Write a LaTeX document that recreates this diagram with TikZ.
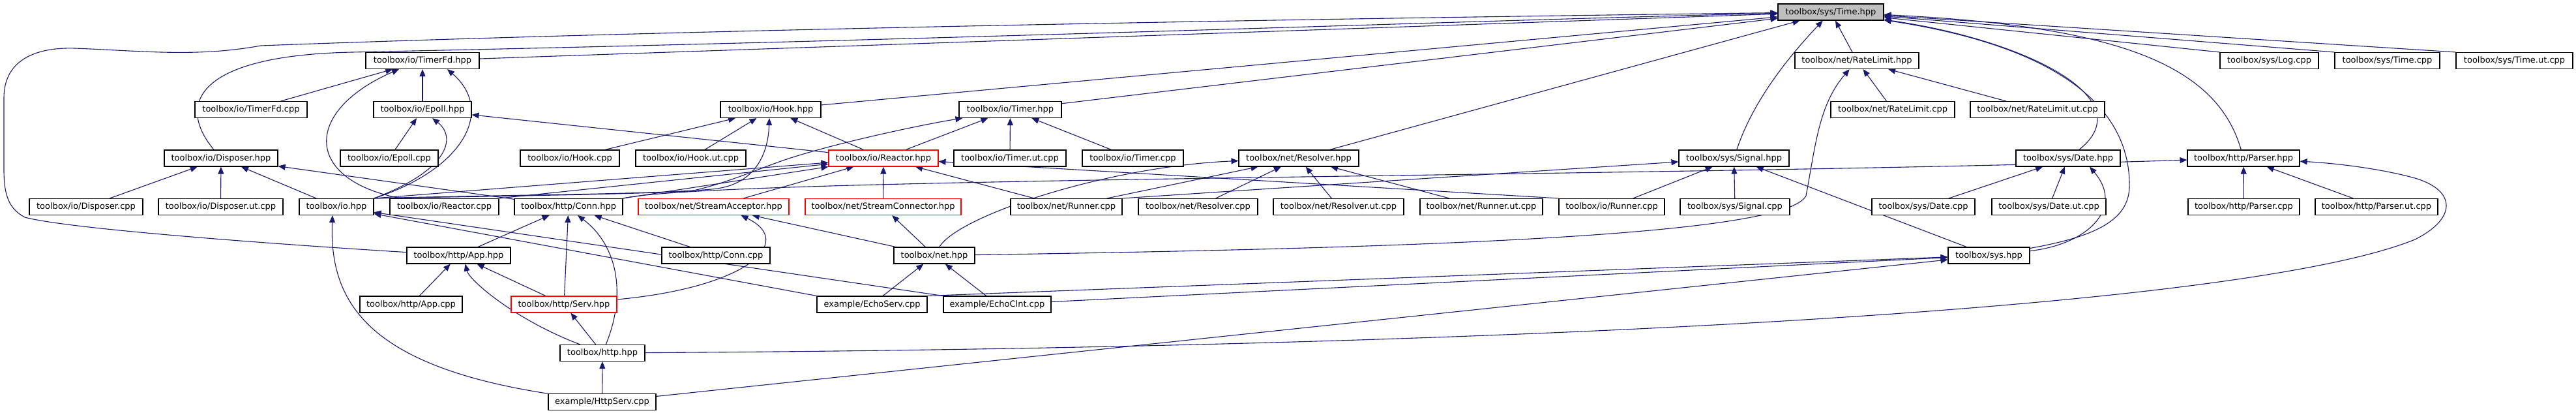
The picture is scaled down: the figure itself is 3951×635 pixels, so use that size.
\documentclass[tikz,border=0pt]{standalone}
\usepackage{fontspec}
\setmainfont{DejaVu Sans}
\usetikzlibrary{arrows.meta}
\definecolor{edgeblue}{HTML}{191970}
\definecolor{graybox}{HTML}{BFBFBF}
\pgfdeclarelayer{background}
\pgfsetlayers{background,main}
\tikzset{
  box/.style={draw=black, line width=1.1pt, fill=white, minimum height=25pt, inner xsep=2pt, inner ysep=0pt, font=\fontsize{13}{13}\selectfont, anchor=center},
  redbox/.style={box, draw=red},
  edge/.style={draw=edgeblue, line width=1.1pt, -{Triangle[length=11pt,width=9pt]}}
}
\begin{document}
\begin{tikzpicture}[x=1pt,y=-1pt]
\useasboundingbox (0,0) rectangle (3951,635);
% row 1
\node[box, fill=graybox, minimum width=162] (time) at (2808,18.5) {toolbox/sys/Time.hpp};
% row 2
\node[box, minimum width=174] (timerfd) at (648,93) {toolbox/io/TimerFd.hpp};
\node[box, minimum width=190] (ratelimit) at (2848,93) {toolbox/net/RateLimit.hpp};
\node[box, minimum width=151] (logcpp) at (3480.5,93) {toolbox/sys/Log.cpp};
\node[box, minimum width=161] (timecpp) at (3661.5,93) {toolbox/sys/Time.cpp};
\node[box, minimum width=179] (timeut) at (3856.5,93) {toolbox/sys/Time.ut.cpp};
% row 3
\node[box, minimum width=172] (timerfdcpp) at (385,168) {toolbox/io/TimerFd.cpp};
\node[box, minimum width=150] (epoll) at (648,168) {toolbox/io/Epoll.hpp};
\node[box, minimum width=154] (hook) at (1182,168) {toolbox/io/Hook.hpp};
\node[box, minimum width=157] (timer) at (1549.5,168) {toolbox/io/Timer.hpp};
\node[box, minimum width=190] (ratelimitcpp) at (2903,168) {toolbox/net/RateLimit.cpp};
\node[box, minimum width=206] (ratelimitut) at (3125,168) {toolbox/net/RateLimit.ut.cpp};
% row 4
\node[box, minimum width=174] (disposer) at (339,242.5) {toolbox/io/Disposer.hpp};
\node[box, minimum width=150] (epollcpp) at (597,242.5) {toolbox/io/Epoll.cpp};
\node[box, minimum width=152] (hookcpp) at (874,242.5) {toolbox/io/Hook.cpp};
\node[box, minimum width=169] (hookut) at (1059.5,242.5) {toolbox/io/Hook.ut.cpp};
\node[redbox, minimum width=168] (reactor) at (1355,242.5) {toolbox/io/Reactor.hpp};
\node[box, minimum width=172] (timerut) at (1549,242.5) {toolbox/io/Timer.ut.cpp};
\node[box, minimum width=155] (timercpp) at (1737.5,242.5) {toolbox/io/Timer.cpp};
\node[box, minimum width=184] (resolver) at (1992,242.5) {toolbox/net/Resolver.hpp};
\node[box, minimum width=169] (signal) at (2659.5,242.5) {toolbox/sys/Signal.hpp};
\node[box, minimum width=160] (date) at (3172,242.5) {toolbox/sys/Date.hpp};
\node[box, minimum width=172] (parser) at (3441,242.5) {toolbox/http/Parser.hpp};
% row 5
\node[box, minimum width=174] (disposercpp) at (132,317) {toolbox/io/Disposer.cpp};
\node[box, minimum width=191] (disposerut) at (338.5,317) {toolbox/io/Disposer.ut.cpp};
\node[box, minimum width=114] (io) at (516,317) {toolbox/io.hpp};
\node[box, minimum width=167] (reactorcpp) at (681.5,317) {toolbox/io/Reactor.cpp};
\node[box, minimum width=166] (conn) at (872,317) {toolbox/http/Conn.hpp};
\node[redbox, minimum width=231] (sacc) at (1094.5,317) {toolbox/net/StreamAcceptor.hpp};
\node[redbox, minimum width=239] (sconn) at (1354.5,317) {toolbox/net/StreamConnector.hpp};
\node[box, minimum width=171] (netrunner) at (1635.5,317) {toolbox/net/Runner.cpp};
\node[box, minimum width=183] (resolvercpp) at (1837.5,317) {toolbox/net/Resolver.cpp};
\node[box, minimum width=200] (resolverut) at (2053,317) {toolbox/net/Resolver.ut.cpp};
\node[box, minimum width=188] (runnerut) at (2272,317) {toolbox/net/Runner.ut.cpp};
\node[box, minimum width=162] (iorunner) at (2472,317) {toolbox/io/Runner.cpp};
\node[box, minimum width=168] (signalcpp) at (2661,317) {toolbox/sys/Signal.cpp};
\node[box, minimum width=158] (datecpp) at (2950,317) {toolbox/sys/Date.cpp};
\node[box, minimum width=175] (dateut) at (3142.5,317) {toolbox/sys/Date.ut.cpp};
\node[box, minimum width=171] (parsercpp) at (3441.5,317) {toolbox/http/Parser.cpp};
\node[box, minimum width=188] (parserut) at (3645,317) {toolbox/http/Parser.ut.cpp};
% row 6
\node[box, minimum width=159] (app) at (703.5,391.5) {toolbox/http/App.hpp};
\node[box, minimum width=166] (conncpp) at (1098,391.5) {toolbox/http/Conn.cpp};
\node[box, minimum width=124] (net) at (1433,391.5) {toolbox/net.hpp};
\node[box, minimum width=125] (sys) at (3050.5,391.5) {toolbox/sys.hpp};
% row 7
\node[box, minimum width=157] (appcpp) at (630.5,466.5) {toolbox/http/App.cpp};
\node[redbox, minimum width=162] (serv) at (865,466.5) {toolbox/http/Serv.hpp};
\node[box, minimum width=169] (echoserv) at (1337.5,466.5) {example/EchoServ.cpp};
\node[box, minimum width=165] (echoclnt) at (1529.5,466.5) {example/EchoClnt.cpp};
% row 8, 9
\node[box, minimum width=130] (http) at (924,541) {toolbox/http.hpp};
\node[box, minimum width=165] (httpserv) at (923.5,616) {example/HttpServ.cpp};

\begin{pgfonlayer}{background}
% --- into Time.hpp
\draw[edge] (timerfd) -- (time);
\draw[edge] (disposer) .. controls (270,160) and (300,85) .. (540,80) .. controls (1500,60) and (2300,30) .. (time);
\draw[edge] (app) .. controls (450,376) and (110,352) .. (38,333) .. controls (14,320) and (6,300) .. (6,260) -- (6,150) .. controls (6,95) and (50,72) .. (115,74) .. controls (220,78) and (300,88) .. (400,70) .. controls (1200,40) and (2300,25) .. (time);
\draw[edge] (hook) -- (time);
\draw[edge] (timer) -- (time);
\draw[edge] (resolver) -- (time);
\draw[edge] (signal) .. controls (2690,150) and (2750,80) .. (time);
\draw[edge] (ratelimit) -- (time);
\draw[edge] (logcpp.north west) -- (time);
\draw[edge] (timecpp.north west) -- (time);
\draw[edge] (timeut.north west) -- (time);
\draw[edge] (date) .. controls (3290,150) and (3100,60) .. (time);
\draw[edge] (parser) .. controls (3400,100) and (3250,40) .. (time);
\draw[edge] (sys) .. controls (3230,360) and (3268,330) .. (3266,280) .. controls (3264,160) and (3150,70) .. (time);
% --- RateLimit
\draw[edge] (ratelimitcpp) -- (ratelimit);
\draw[edge] (ratelimitut) -- (ratelimit);
\draw[edge] (net) .. controls (2200,380) and (2740,360) .. (2770,300) .. controls (2785,220) and (2790,160) .. (ratelimit);
% --- TimerFd
\draw[edge] (timerfdcpp) -- (timerfd);
\draw[edge] (epoll) -- (timerfd);
\draw[edge] (reactorcpp) .. controls (465,275) and (465,170) .. ([xshift=-36pt]timerfd.south);
\draw[edge] (io.north east) .. controls (710,260) and (760,170) .. ([xshift=38pt]timerfd.south);
% --- Epoll
\draw[edge] (io.north east) .. controls (690,260) and (700,210) .. ([xshift=15pt]epoll.south);
\draw[edge] (epollcpp) -- (epoll);
\draw[edge] (reactor) -- (epoll);
% --- Disposer
\draw[edge] (disposercpp) -- (disposer);
\draw[edge] (disposerut) -- (disposer);
\draw[edge] (io) -- (disposer);
\draw[edge] (conn) -- (disposer);
% --- Hook
\draw[edge] (hookcpp) -- (hook);
\draw[edge] (hookut) -- (hook);
\draw[edge] (reactor) -- (hook);
\draw[edge] (io.north east) .. controls (800,298) and (1000,298) .. (1091,290) .. controls (1155,285) and (1178,240) .. ([xshift=-2pt]hook.south);
% --- Timer
\draw[edge] (io.north east) .. controls (800,300) and (950,298) .. (1059,293) .. controls (1120,280) and (1170,255) .. (1219,240) .. controls (1300,215) and (1420,190) .. ([xshift=6pt]timer.south west);
\draw[edge] (reactor) -- (timer);
\draw[edge] (timerut) -- (timer);
\draw[edge] (timercpp) -- (timer);
% --- Reactor
\draw[edge] (io.north east) -- (reactor);
\draw[edge] (reactorcpp.north east) -- (reactor);
\draw[edge] (conn.north east) -- (reactor);
\draw[edge] (sacc) -- (reactor);
\draw[edge] (sconn) -- (reactor);
\draw[edge] (netrunner) -- (reactor);
\draw[edge] (iorunner.north west) -- (reactor);
% --- Parser
\draw[edge] (conn.north east) .. controls (1100,272) and (2500,272) .. (parser);
\draw[edge] (http) .. controls (2400,532) and (3450,470) .. (3704,367) .. controls (3768,335) and (3768,292) .. (3704,273) .. controls (3650,258) and (3580,250) .. (parser);
\draw[edge] (parsercpp) -- (parser);
\draw[edge] (parserut) -- (parser);
% --- Resolver
\draw[edge] (net) .. controls (1470,330) and (1700,255) .. (resolver);
\draw[edge] (netrunner) -- (resolver);
\draw[edge] (resolvercpp) -- (resolver);
\draw[edge] (resolverut) -- (resolver);
\draw[edge] (runnerut) -- (resolver);
% --- Signal
\draw[edge] (netrunner.north east) -- (signal);
\draw[edge] (iorunner) -- (signal);
\draw[edge] (signalcpp) -- (signal);
\draw[edge] (sys) -- (signal);
% --- Date
\draw[edge] (datecpp) -- (date);
\draw[edge] (dateut) -- (date);
\draw[edge] (sys) .. controls (3200,375) and (3260,320) .. ([xshift=33pt]date.south);
% --- App
\draw[edge] (appcpp) -- (app);
\draw[edge] (serv) -- (app);
\draw[edge] (http) .. controls (790,490) and (720,430) .. ([xshift=10pt]app.south);
% --- Conn
\draw[edge] (app) -- (conn);
\draw[edge] (serv) -- (conn);
\draw[edge] (http) .. controls (965,440) and (940,370) .. ([xshift=14pt]conn.south);
\draw[edge] (conncpp) -- (conn);
% --- StreamAcceptor / StreamConnector
\draw[edge] (serv) .. controls (1150,440) and (1220,370) .. ([xshift=42pt]sacc.south);
\draw[edge] (net) -- (sacc);
\draw[edge] (net) -- (sconn);
% --- net.hpp
\draw[edge] (echoserv) -- (net);
\draw[edge] (echoclnt) -- (net);
% --- io.hpp
\draw[edge] (echoserv.north west) -- (io);
\draw[edge] (echoclnt.north west) -- (io);
\draw[edge] (httpserv) .. controls (560,560) and (505,460) .. ([xshift=-6pt]io.south);
% --- sys.hpp
\draw[edge] (echoserv.north east) -- (sys);
\draw[edge] (echoclnt) -- (sys);
\draw[edge] (httpserv) -- (sys);
% --- http.hpp, Serv.hpp
\draw[edge] (httpserv) -- (http);
\draw[edge] (http) -- (serv);
\end{pgfonlayer}
\end{tikzpicture}
\end{document}
